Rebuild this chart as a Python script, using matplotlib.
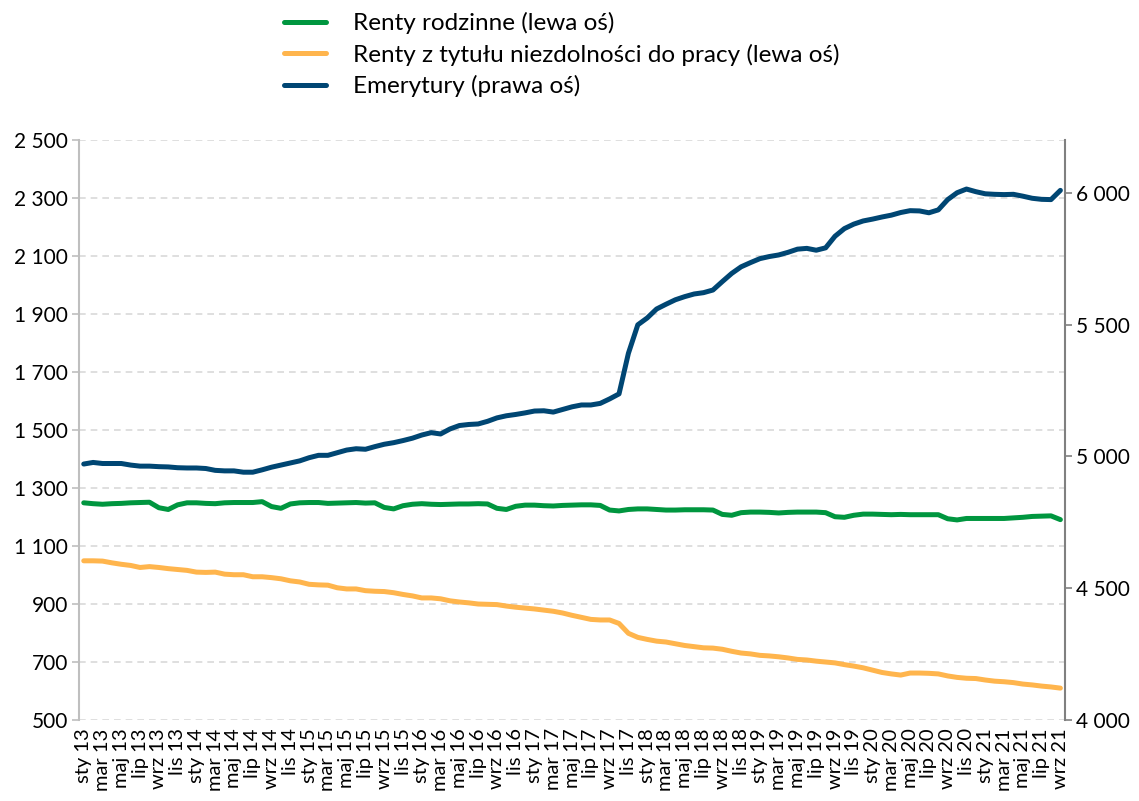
import matplotlib
matplotlib.use("Agg")
import matplotlib.pyplot as plt
from matplotlib.ticker import FuncFormatter

plt.rcParams["font.family"] = ["Lato", "DejaVu Sans"]

# miesiace sty 2013 - wrz 2021
month_names = ["sty", "lut", "mar", "kwi", "maj", "cze",
               "lip", "sie", "wrz", "paź", "lis", "gru"]
years = list(range(13, 22))

renty_rodzinne = [
    1249, 1246, 1244, 1246, 1247, 1249, 1250, 1251, 1232, 1226, 1242, 1249,
    1249, 1247, 1246, 1249, 1250, 1250, 1250, 1253, 1236, 1230, 1245, 1249,
    1250, 1250, 1247, 1248, 1249, 1250, 1248, 1249, 1233, 1228, 1239, 1244,
    1246, 1244, 1243, 1244, 1245, 1245, 1246, 1245, 1230, 1226, 1237, 1241,
    1241, 1239, 1238, 1240, 1241, 1242, 1242, 1240, 1224, 1221, 1226, 1228,
    1228, 1226, 1224, 1224, 1225, 1225, 1225, 1224, 1209, 1206, 1215, 1217,
    1217, 1216, 1214, 1216, 1217, 1217, 1217, 1215, 1201, 1199, 1206, 1210,
    1210, 1209, 1208, 1209, 1208, 1208, 1208, 1208, 1194, 1190, 1195, 1195,
    1195, 1195, 1195, 1197, 1199, 1202, 1203, 1204, 1191,
]

renty_niezdolnosc = [
    1049, 1049, 1048, 1042, 1037, 1033, 1026, 1029, 1026, 1022, 1019, 1016,
    1010, 1009, 1010, 1003, 1001, 1001, 994, 994, 991, 987, 980, 976,
    968, 966, 965, 956, 952, 952, 946, 944, 943, 939, 933, 928,
    921, 921, 918, 911, 907, 904, 900, 899, 898, 893, 889, 886,
    883, 879, 875, 869, 861, 854, 847, 845, 845, 833, 799, 785,
    778, 772, 769, 763, 757, 753, 749, 748, 744, 737, 731, 728,
    723, 721, 718, 714, 709, 707, 703, 700, 697, 691, 686, 680,
    672, 664, 659, 655, 662, 662, 661, 659, 652, 647, 644, 643,
    638, 634, 632, 629, 624, 621, 617, 614, 610,
]

emerytury = [
    4971, 4977, 4973, 4973, 4973, 4967, 4963, 4963, 4961, 4960, 4957, 4956,
    4956, 4954, 4947, 4945, 4945, 4940, 4940, 4949, 4959, 4967, 4975, 4983,
    4995, 5004, 5004, 5014, 5024, 5029, 5027, 5037, 5046, 5052, 5060, 5069,
    5081, 5090, 5085, 5104, 5117, 5121, 5123, 5133, 5146, 5154, 5159, 5165,
    5172, 5173, 5168, 5178, 5188, 5195, 5195, 5201, 5218, 5237, 5391, 5499,
    5525, 5559, 5577, 5594, 5606, 5616, 5621, 5631, 5663, 5694, 5719, 5735,
    5750, 5758, 5764, 5774, 5786, 5789, 5782, 5791, 5835, 5864, 5881, 5893,
    5900, 5908, 5915, 5925, 5932, 5931, 5924, 5935, 5974, 6000, 6014, 6004,
    5996, 5994, 5993, 5994, 5987, 5979, 5975, 5974, 6009,
]

labels = [f"{m} {y}" for y in years for m in month_names][:len(emerytury)]

legend_labels = ["Renty rodzinne (lewa oś)",
                 "Renty z tytułu niezdolności do pracy (lewa oś)",
                 "Emerytury (prawa oś)"]
colors = ["#00963f", "#ffb54d", "#004673"]

def spaced(v, pos):
    return f"{int(v):,}".replace(",", " ")

fig = plt.figure(figsize=(11.39, 8.01), dpi=100)
ax = fig.add_axes([0.0694, 0.1011, 0.8657, 0.7241])
ax2 = ax.twinx()

x = list(range(len(labels)))
l1, = ax.plot(x, renty_rodzinne, color=colors[0], lw=3.6, solid_capstyle="round")
l2, = ax.plot(x, renty_niezdolnosc, color=colors[1], lw=3.6, solid_capstyle="round")
l3, = ax2.plot(x, emerytury, color=colors[2], lw=3.6, solid_capstyle="round")

ax.set_xlim(-0.5, len(labels) - 0.5)
ax.set_ylim(500, 2500)
ax.set_yticks(range(500, 2501, 200))
ax2.set_ylim(4000, 6200)
ax2.set_yticks(range(4000, 6001, 500))
ax.yaxis.set_major_formatter(FuncFormatter(spaced))
ax2.yaxis.set_major_formatter(FuncFormatter(spaced))

ax.set_xticks(x[::2])
ax.set_xticklabels(labels[::2], rotation=90, fontsize=14.5)
ax.tick_params(axis="x", length=0, pad=6)
ax.tick_params(axis="y", labelsize=15, length=5, color="#bfbfbf", width=1.2, pad=3)
ax2.tick_params(axis="y", labelsize=15, length=5, color="#808080", width=1.2, pad=3)

ax.grid(axis="y", color="#d9d9d9", linestyle=(0, (4, 3)), linewidth=1.2)
ax.set_axisbelow(True)

for a in (ax, ax2):
    a.spines["top"].set_visible(False)
    a.spines["bottom"].set_visible(False)
ax.spines["left"].set_color("#bfbfbf")
ax.spines["left"].set_linewidth(1.5)
ax.spines["right"].set_visible(False)
ax2.spines["left"].set_visible(False)
ax2.spines["right"].set_color("#808080")
ax2.spines["right"].set_linewidth(1.5)

fig.legend([l1, l2, l3], legend_labels, loc="upper left",
           bbox_to_anchor=(0.230, 1.012), frameon=False, fontsize=17.5,
           handlelength=1.75, handletextpad=1.1, labelspacing=0.38)

fig.savefig("out.png", dpi=100)
